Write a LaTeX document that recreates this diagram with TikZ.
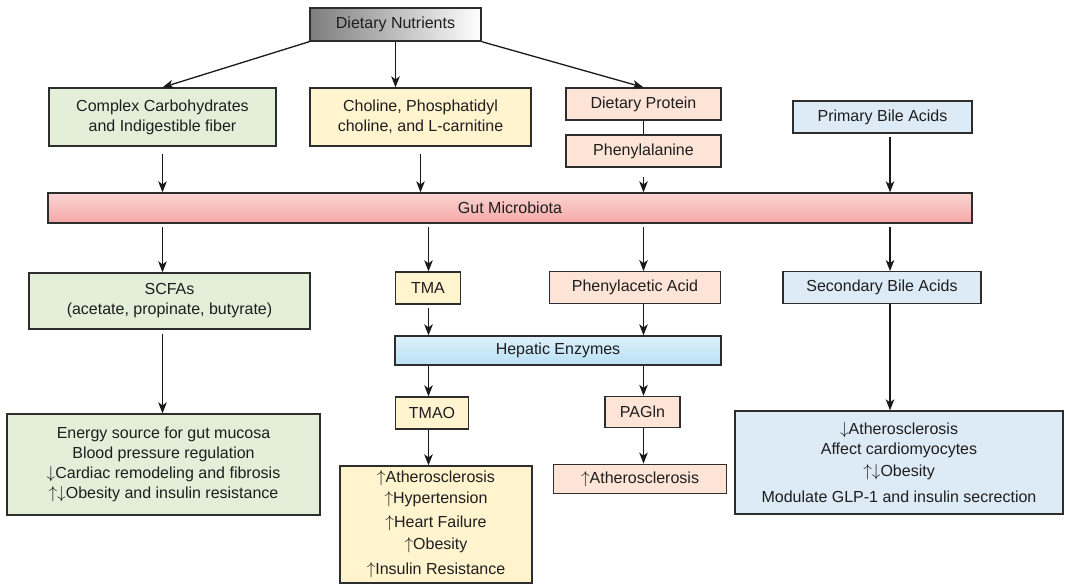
\documentclass[tikz,border=0pt]{standalone}
\usepackage{fontspec}
\setmainfont{Liberation Sans}
\usetikzlibrary{arrows.meta,calc}
\definecolor{txt}{RGB}{30,30,30}
\definecolor{bord}{RGB}{45,45,45}
\definecolor{grn}{RGB}{227,239,217}
\definecolor{ylw}{RGB}{255,244,206}
\definecolor{pch}{RGB}{253,228,214}
\definecolor{blu}{RGB}{221,235,247}
\definecolor{guttop}{RGB}{251,212,210}
\definecolor{gutbot}{RGB}{245,168,166}
\definecolor{heptop}{RGB}{222,241,251}
\definecolor{hepbot}{RGB}{184,225,245}
\definecolor{dngray}{RGB}{125,125,125}
\newcommand{\up}{$\uparrow$}
\newcommand{\dn}{$\downarrow$}
\begin{document}
\begin{tikzpicture}[x=1pt,y=-1pt,
  box/.style={draw=bord,line width=1.3pt,inner sep=0pt,align=center,text=txt,
    font=\fontsize{16}{20}\selectfont},
  arr/.style={draw=black!90,line width=1.3pt,-{Stealth[length=11pt,width=8.5pt,inset=3pt]}},
  ln/.style={draw=black!90,line width=1.3pt}]
\useasboundingbox (0,0) rectangle (1070,584);
% column coordinates
\coordinate (c1) at (162.5,0);
\coordinate (c2) at (428.5,0);
\coordinate (c3) at (643.5,0);
\coordinate (c4) at (890,0);
% top row
\node[box,left color=dngray,right color=white,minimum width=171pt,minimum height=33pt] (dn) at (395.5,24.5) {Dietary Nutrients};
\node[box,fill=grn,minimum width=227pt,minimum height=58pt] (cc) at (162.5,117) {Complex Carbohydrates\\and Indigestible fiber};
\node[box,fill=ylw,minimum width=221pt,minimum height=58pt] (ch) at (420.5,117) {Choline, Phosphatidyl\\choline, and L-carnitine};
\node[box,fill=pch,minimum width=155pt,minimum height=32pt] (dp) at (643.5,104) {Dietary Protein};
\node[box,fill=pch,minimum width=155pt,minimum height=32pt] (ph) at (643.5,151) {Phenylalanine};
\node[box,fill=blu,minimum width=179pt,minimum height=32pt] (pba) at (882.5,117) {Primary Bile Acids};
% gut
\node[box,top color=guttop,bottom color=gutbot,minimum width=924pt,minimum height=30pt] (gut) at (510,208) {Gut Microbiota};
% middle row
\node[box,fill=grn,minimum width=281pt,minimum height=56pt] (scfa) at (169.5,301) {SCFAs\\(acetate, propinate, butyrate)};
\node[box,fill=ylw,minimum width=65.5pt,minimum height=32pt] (tma) at (428,288) {TMA};
\node[box,fill=pch,minimum width=171pt,minimum height=31.5pt] (pha) at (635,287.5) {Phenylacetic Acid};
\node[box,fill=blu,minimum width=198pt,minimum height=31.5pt] (sba) at (882,287.5) {Secondary Bile Acids};
\node[box,top color=heptop,bottom color=hepbot,minimum width=326pt,minimum height=29pt] (hep) at (558,350.5) {Hepatic Enzymes};
\node[box,fill=ylw,minimum width=73.5pt,minimum height=32pt] (tmao) at (432,413) {TMAO};
\node[box,fill=pch,minimum width=75pt,minimum height=31pt] (pag) at (642.5,412) {PAGln};
% bottom row
\node[box,fill=grn,minimum width=313pt,minimum height=101pt] (en) at (163.5,464.5) {Energy source for gut mucosa\\Blood pressure regulation\\\dn Cardiac remodeling and fibrosis\\\up\dn Obesity and insulin resistance};
\node[box,fill=ylw,minimum width=192pt,minimum height=117pt] (tmaoe) at (436,524.5) {\up Atherosclerosis\\[1pt]\up Hypertension\\[4pt]\up Heart Failure\\[2pt]\up Obesity\\[5pt]\up Insulin Resistance};
\node[box,fill=pch,minimum width=173.5pt,minimum height=29.5pt] (page) at (640,479) {\up Atherosclerosis};
\node[box,fill=blu,minimum width=328pt,minimum height=103pt] (bae) at (899,462.5) {\dn Atherosclerosis\\Affect cardiomyocytes\\[2pt]\up\dn Obesity\\[6pt]Modulate GLP-1 and insulin secrection};
% connectors from dietary nutrients
\draw[arr] (dn.south west) -- (cc.north);
\draw[arr] (dn.south) -- (dn.south |- ch.north);
\draw[arr] (dn.south east) -- (dp.north);
\draw[ln] (dp.south) -- (ph.north);
% into gut
\draw[arr,shorten <=7pt] (cc.south -| c1) -- (gut.north -| c1);
\draw[arr,shorten <=7pt] (ch.south) -- (ch.south |- gut.north);
\draw[arr,shorten <=9pt] (ph.south) -- (ph.south |- gut.north);
\draw[arr,shorten <=3pt] (pba.south -| c4) -- (gut.north -| c4);
% out of gut
\draw[arr,shorten <=3pt] (gut.south -| c1) -- (scfa.north -| c1);
\draw[arr,shorten <=3pt] (gut.south -| c2) -- (tma.north -| c2);
\draw[arr,shorten <=3pt] (gut.south -| c3) -- (pha.north -| c3);
\draw[arr,shorten <=3pt] (gut.south -| c4) -- (sba.north -| c4);
% lower chain
\draw[arr,shorten <=4pt] (scfa.south -| c1) -- (en.north -| c1);
\draw[arr,shorten <=3pt] (tma.south -| c2) -- (hep.north -| c2);
\draw[arr] (pha.south -| c3) -- (hep.north -| c3);
\draw[arr] (hep.south -| c2) -- (tmao.north -| c2);
\draw[arr] (hep.south -| c3) -- (pag.north -| c3);
\draw[arr] (tmao.south -| c2) -- (tmaoe.north -| c2);
\draw[arr] (pag.south -| c3) -- (page.north -| c3);
\draw[arr] (sba.south -| c4) -- (bae.north -| c4);
\end{tikzpicture}
\end{document}
